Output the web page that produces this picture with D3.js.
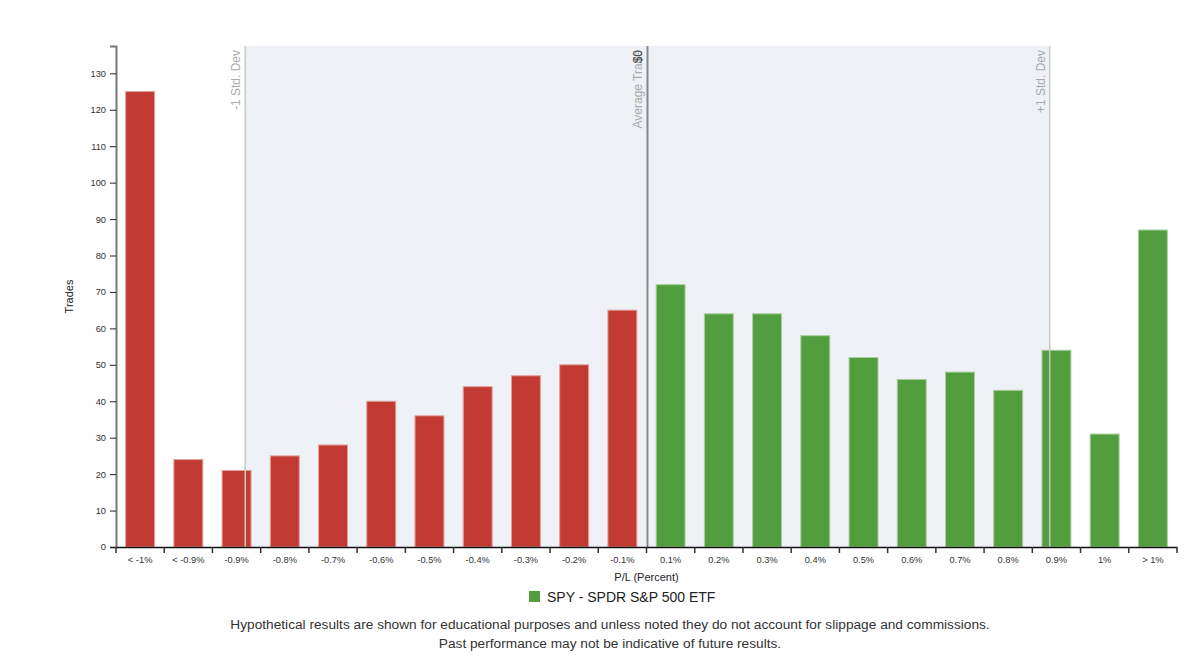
<!DOCTYPE html>
<html>
<head>
<meta charset="utf-8">
<script src="https://cdn.jsdelivr.net/npm/d3@7"></script>
<style>
  body { margin: 0; background: #fff; font-family: "Liberation Sans", Arial, sans-serif; }
  .axis text { font-size: 9.3px; fill: #333; }
  .note { font-size: 13.7px; fill: #333; }
</style>
</head>
<body>
<svg id="chart" width="1203" height="659"></svg>
<script>
// bins of P/L and number of trades in each
var categories = ["< -1%", "< -0.9%", "-0.9%", "-0.8%", "-0.7%", "-0.6%", "-0.5%", "-0.4%", "-0.3%", "-0.2%", "-0.1%",
                  "0.1%", "0.2%", "0.3%", "0.4%", "0.5%", "0.6%", "0.7%", "0.8%", "0.9%", "1%", "> 1%"]
var trades = [125, 24, 21, 25, 28, 40, 36, 44, 47, 50, 65,
              72, 64, 64, 58, 52, 46, 48, 43, 54, 31, 87]
var yTicks = [0, 10, 20, 30, 40, 50, 60, 70, 80, 90, 100, 110, 120, 130]

// reference lines, in percent P/L
var avgTrade = 0.002
var avgTradeDollars = 0
var stdDev = 0.834
var pctDomain = [-1.1, 1.1]

var svg = d3.select("#chart")
var margin = {left: 116, right: 26, top: 46, bottom: 112}
var width = 1203 - margin.left - margin.right,
    height = 659 - margin.top - margin.bottom

var g = svg.append("g").attr("transform", "translate(" + margin.left + "," + margin.top + ")")

var x = d3.scaleBand().domain(categories).range([0, width]).paddingInner(0.4).paddingOuter(0.2)
var xPct = d3.scaleLinear().domain(pctDomain).range([0, width])
var y = d3.scaleLinear().domain([0, d3.max(trades) * 1.1]).range([height, 0])

//shaded area between the std dev lines
g.append("rect")
    .attr("x", xPct(avgTrade - stdDev))
    .attr("y", 0)
    .attr("width", xPct(avgTrade + stdDev) - xPct(avgTrade - stdDev))
    .attr("height", height)
    .attr("fill", "#eef1f6")

g.selectAll(".bar")
    .data(trades)
    .enter()
    .append("rect")
    .attr("class", "bar")
    .attr("x", function(d, i) { return x(categories[i]) })
    .attr("y", function(d) { return y(d) })
    .attr("width", x.bandwidth())
    .attr("height", function(d) { return height - y(d) })
    .attr("fill", function(d, i) { return i < 11 ? "#c23a32" : "#529e3f" })
    .attr("stroke", function(d, i) { return i < 11 ? "#e0a09c" : "#a9cf9f" })
    .attr("stroke-width", 1)

// std dev + average lines
var refLines = [
    {v: avgTrade - stdDev, label: "-1 Std. Dev", color: "#c8c8c8", w: 1.5},
    {v: avgTrade, label: "Average Trade", color: "#888", w: 2},
    {v: avgTrade + stdDev, label: "+1 Std. Dev", color: "#c8c8c8", w: 1.5}
]

refLines.forEach(function(r) {
    var px = xPct(r.v)
    g.append("line")
        .attr("x1", px).attr("x2", px)
        .attr("y1", 0).attr("y2", height)
        .attr("stroke", r.color)
        .attr("stroke-width", r.w)
    g.append("text")
        .attr("transform", "translate(" + (px - 5) + ",4) rotate(-90)")
        .attr("text-anchor", "end")
        .attr("font-size", 12)
        .attr("fill", "#aaa")
        .text(r.label)
})

// the $0 value sits on top of the average label
g.append("text")
    .attr("transform", "translate(" + (xPct(avgTrade) - 5) + ",4) rotate(-90)")
    .attr("text-anchor", "end")
    .attr("font-size", 12)
    .attr("fill", "#444")
    .text("$" + avgTradeDollars)

// axes
var yAxis = g.append("g").attr("class", "axis")
    .call(d3.axisLeft(y).tickValues(yTicks).tickSize(6).tickPadding(4))
yAxis.select(".domain").attr("stroke", "#777").attr("stroke-width", 2)
yAxis.selectAll(".tick line").attr("stroke", "#222")

var xAxis = g.append("g").attr("class", "axis")
    .attr("transform", "translate(0," + height + ")")
    .call(d3.axisBottom(x).tickSize(0).tickPadding(9))
xAxis.select(".domain").attr("stroke", "#111").attr("stroke-width", 1.5)

// ticks between the bins
var boundaries = categories.map(function(c) { return x(c) - x.step() * x.paddingInner() / 2 })
boundaries.push(width)
xAxis.selectAll(".bound")
    .data(boundaries)
    .enter()
    .append("line")
    .attr("x1", function(d) { return d }).attr("x2", function(d) { return d })
    .attr("y1", 0).attr("y2", 6)
    .attr("stroke", "#333")
    .attr("stroke-width", 1.5)

g.append("text")
    .attr("transform", "translate(-43," + (height / 2) + ") rotate(-90)")
    .attr("text-anchor", "middle")
    .attr("font-size", 11)
    .attr("fill", "#222")
    .text("Trades")

g.append("text")
    .attr("x", width / 2)
    .attr("y", height + 34)
    .attr("text-anchor", "middle")
    .attr("font-size", 11)
    .attr("fill", "#222")
    .text("P/L (Percent)")

// legend
var legend = svg.append("g").attr("transform", "translate(529,591)")
legend.append("rect").attr("width", 11).attr("height", 11).attr("fill", "#529e3f")
legend.append("text").attr("x", 18).attr("y", 11).attr("font-size", 14).attr("fill", "#222")
    .text("SPY - SPDR S&P 500 ETF")

svg.append("text").attr("class", "note").attr("x", 610).attr("y", 629).attr("text-anchor", "middle")
    .text("Hypothetical results are shown for educational purposes and unless noted they do not account for slippage and commissions.")
svg.append("text").attr("class", "note").attr("x", 610).attr("y", 648).attr("text-anchor", "middle")
    .text("Past performance may not be indicative of future results.")
</script>
</body>
</html>
